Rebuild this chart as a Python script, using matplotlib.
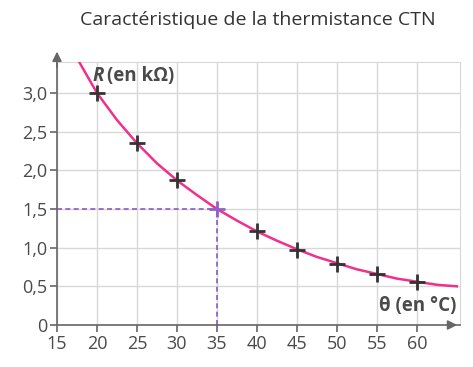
import matplotlib.pyplot as plt

# measured points (temperature in °C, resistance in kOhm)
theta = [20, 25, 30, 35, 40, 45, 50, 55, 60]
resistance = [3.0, 2.35, 1.87, 1.5, 1.21, 0.97, 0.79, 0.66, 0.56]

# fitted curve
curve_theta = [17.5, 20, 22.5, 25, 27.5, 30, 32.5, 35, 37.5, 40, 42.5,
               45, 47.5, 50, 52.5, 55, 57.5, 60, 62.5, 65]
curve_r = [3.45, 3.0, 2.65, 2.35, 2.09, 1.87, 1.68, 1.5, 1.35, 1.21, 1.09,
           0.98, 0.88, 0.80, 0.72, 0.66, 0.60, 0.56, 0.52, 0.50]

xticks = [15, 20, 25, 30, 35, 40, 45, 50, 55, 60]
yticks = [0, 0.5, 1.0, 1.5, 2.0, 2.5, 3.0]
ylabels = ['0', '0,5', '1,0', '1,5', '2,0', '2,5', '3,0']

plt.rcParams['font.family'] = ['Open Sans', 'DejaVu Sans']
txt = '#4a4a4a'

fig = plt.figure(figsize=(4.73, 3.67), dpi=100)
ax = fig.add_axes([57 / 473, 1 - 325 / 367, 403 / 473, 263 / 367])
ax.set_xlim(15, 65.4)
ax.set_ylim(0, 3.4)

ax.set_xticks(xticks)
ax.set_yticks(yticks)
ax.set_yticklabels(ylabels)
ax.grid(True, color='#d8d8d8', lw=1)
ax.set_axisbelow(True)

for s in ['top', 'right']:
    ax.spines[s].set_color('#d8d8d8')
for s in ['left', 'bottom']:
    ax.spines[s].set_color('#666666')
    ax.spines[s].set_linewidth(1.2)
ax.tick_params(colors='#666666', labelcolor=txt, labelsize=13, length=5, width=1.2, pad=2)

# arrows on axes
ax.annotate('', xy=(1.0, 0), xycoords='axes fraction', xytext=(0.97, 0),
            arrowprops=dict(arrowstyle='-|>', color='#666666', lw=1.2, mutation_scale=14))
ax.annotate('', xy=(0, 1.05), xycoords='axes fraction', xytext=(0, 0.97),
            arrowprops=dict(arrowstyle='-|>', color='#666666', lw=1.2, mutation_scale=14),
            annotation_clip=False)

ax.plot(curve_theta, curve_r, color='#f0308a', lw=1.8, zorder=3)

# reading at 35 °C
ax.plot([15, 35], [1.5, 1.5], ls=(0, (3, 2)), color='#8a5cc0', lw=1.2, zorder=2)
ax.plot([35, 35], [0, 1.5], ls=(0, (3, 2)), color='#8a5cc0', lw=1.2, zorder=2)

colors = ['#333333' if t != 35 else '#9060c8' for t in theta]
for t, r, c in zip(theta, resistance, colors):
    ax.plot(t, r, marker='+', color=c, ms=11, mew=2, zorder=4)

ax.text(19.5, 3.15, 'R', color=txt, fontsize=13.5, fontweight='bold', fontstyle='italic')
ax.text(21.3, 3.15, '(en k\u03a9)', color=txt, fontsize=13.5, fontweight='bold')
ax.text(65.0, 0.18, '\u03b8 (en °C)', color=txt, fontsize=13.5, fontweight='bold', ha='right')

fig.suptitle('Caractéristique de la thermistance CTN', x=0.545, y=0.97,
             fontsize=14, color='#333333')

fig.savefig('out.png', dpi=100)
